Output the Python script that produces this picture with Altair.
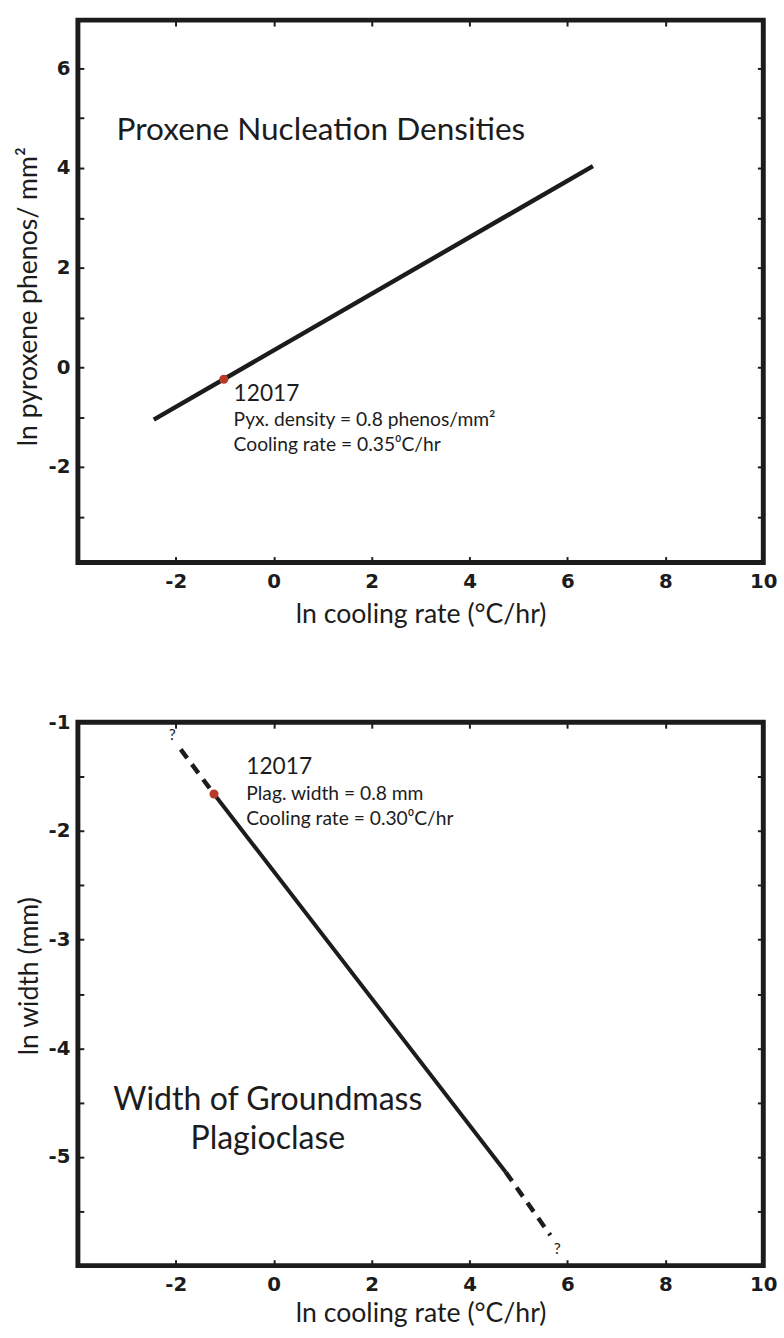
import altair as alt
import pandas as pd

FONT = "Lato"
TICKFONT = "DejaVu Sans"
INK = "#1c1c1c"
RED = "#b83a28"

# ---------------- top panel: pyroxene nucleation densities ----------------
pyx_xdomain = [-4, 10]
pyx_ydomain = [-3.92, 6.97]
pyx_xticks = [-2, 0, 2, 4, 6, 8, 10]
pyx_yticks = [-3, -2, -1, 0, 1, 2, 3, 4, 5, 6]
pyx_line_x = [-2.45, 6.52]
pyx_line_y = [-1.05, 4.04]
pyx_pt_x = [-1.02]
pyx_pt_y = [-0.24]
pyx_id_x = [-0.82]
pyx_id_y = [-0.53]
pyx_id = ["12017"]
pyx_note_x = [-0.82, -0.82]
pyx_note_y = [-1.07, -1.56]
pyx_note = ["Pyx. density = 0.8 phenos/mm²", "Cooling rate = 0.35⁰C/hr"]
pyx_title_x = [-3.21]
pyx_title_y = [4.57]
pyx_title = ["Proxene Nucleation Densities"]

# ---------------- bottom panel: groundmass plagioclase width ----------------
plag_xdomain = [-4, 10]
plag_ydomain = [-6, -1]
plag_xticks = [-2, 0, 2, 4, 6, 8, 10]
plag_yticks = [-5.5, -5, -4.5, -4, -3.5, -3, -2.5, -2, -1.5, -1]
plag_solid_x = [-1.22, 4.74]
plag_solid_y = [-1.66, -5.14]
plag_dash_x = [-1.90, -1.22, 4.74, 5.65]
plag_dash_y = [-1.25, -1.66, -5.14, -5.72]
plag_dash_seg = ["upper", "upper", "lower", "lower"]
plag_pt_x = [-1.22]
plag_pt_y = [-1.66]
plag_q_x = [-2.07, 5.79]
plag_q_y = [-1.12, -5.85]
plag_q = ["?", "?"]
plag_id_x = [-0.56]
plag_id_y = [-1.41]
plag_id = ["12017"]
plag_note_x = [-0.56, -0.56]
plag_note_y = [-1.66, -1.89]
plag_note = ["Plag. width = 0.8 mm", "Cooling rate = 0.30⁰C/hr"]
plag_title_x = [-0.12, -0.12]
plag_title_y = [-4.48, -4.84]
plag_title = ["Width of Groundmass", "Plagioclase"]

W, H = 695, 550


def df(x, y, **kw):
    d = {"x": x, "y": y}
    d.update(kw)
    return pd.DataFrame(d)


def x_main(values, title, title_y, domain):
    return alt.X("x:Q", scale=alt.Scale(domain=domain, nice=False, zero=False),
                 axis=alt.Axis(values=values, labelExpr="'' + datum.value",
                               offset=-6, tickSize=6, tickWidth=2, tickColor=INK,
                               domain=False, grid=False, labelPadding=9,
                               labelFont=TICKFONT, labelFontWeight="bold", labelFontSize=20,
                               labelColor=INK, labelOverlap=False, labelFlush=False,
                               title=title, titleFont=FONT, titleFontSize=27,
                               titleFontWeight="normal", titleColor=INK,
                               titleY=title_y, titleBaseline="middle"))


def y_main(values, expr, title, title_x, title_y, domain):
    return alt.Y("y:Q", scale=alt.Scale(domain=domain, nice=False, zero=False),
                 axis=alt.Axis(values=values, labelExpr=expr,
                               offset=-6, tickSize=6, tickWidth=2, tickColor=INK,
                               domain=False, grid=False, labelPadding=8,
                               labelFont=TICKFONT, labelFontWeight="bold", labelFontSize=20,
                               labelColor=INK, labelOverlap=False, labelFlush=False,
                               title=title, titleFont=FONT, titleFontSize=27,
                               titleFontWeight="normal", titleColor=INK,
                               titleX=title_x, titleY=title_y, titleAngle=270,
                               titleAlign="center", titleBaseline="middle"))


def x_top(values, domain):
    return alt.X("x:Q", scale=alt.Scale(domain=domain, nice=False, zero=False),
                 axis=alt.Axis(orient="top", values=values, labels=False, title=None,
                               offset=-6, tickSize=6, tickWidth=2, tickColor=INK,
                               domain=False, grid=False))


def y_right(values, domain):
    return alt.Y("y:Q", scale=alt.Scale(domain=domain, nice=False, zero=False),
                 axis=alt.Axis(orient="right", values=values, labels=False, title=None,
                               offset=-6, tickSize=6, tickWidth=2, tickColor=INK,
                               domain=False, grid=False))


def xs(domain):
    return alt.X("x:Q", scale=alt.Scale(domain=domain, nice=False, zero=False), axis=None)


def ys(domain):
    return alt.Y("y:Q", scale=alt.Scale(domain=domain, nice=False, zero=False), axis=None)


# ---------- top panel ----------
t_line = alt.Chart(df(pyx_line_x, pyx_line_y)).mark_line(
    color=INK, strokeWidth=4.5, strokeCap="butt").encode(
    x=x_main(pyx_xticks, "ln cooling rate (°C/hr)", 59, pyx_xdomain),
    y=y_main(pyx_yticks, "datum.value % 2 == 0 ? '' + datum.value : ''",
             "ln pyroxene phenos/ mm²", -56, 280, pyx_ydomain))
t_pt = alt.Chart(df(pyx_pt_x, pyx_pt_y)).mark_circle(
    color=RED, size=85, opacity=1).encode(
    x=x_top(pyx_xticks, pyx_xdomain), y=y_right(pyx_yticks, pyx_ydomain))
t_id = alt.Chart(df(pyx_id_x, pyx_id_y, t=pyx_id)).mark_text(
    font=FONT, fontSize=23, color=INK, align="left", baseline="middle").encode(
    x=xs(pyx_xdomain), y=ys(pyx_ydomain), text="t:N")
t_note = alt.Chart(df(pyx_note_x, pyx_note_y, t=pyx_note)).mark_text(
    font=FONT, fontSize=19.5, color=INK, align="left", baseline="middle").encode(
    x=xs(pyx_xdomain), y=ys(pyx_ydomain), text="t:N")
t_title = alt.Chart(df(pyx_title_x, pyx_title_y, t=pyx_title)).mark_text(
    font=FONT, fontSize=32, color=INK, align="left", baseline="alphabetic").encode(
    x=xs(pyx_xdomain), y=ys(pyx_ydomain), text="t:N")

top = alt.layer(t_line, t_pt, t_id, t_note, t_title).resolve_axis(
    x="independent", y="independent").properties(width=W, height=H)

# ---------- bottom panel ----------
b_solid = alt.Chart(df(plag_solid_x, plag_solid_y)).mark_line(
    color=INK, strokeWidth=4, strokeCap="butt").encode(
    x=x_main(plag_xticks, "ln cooling rate (°C/hr)", 55, plag_xdomain),
    y=y_main(plag_yticks, "datum.value % 1 == 0 ? '' + datum.value : ''",
             "ln width (mm)", -55, 257, plag_ydomain))
b_dash = alt.Chart(df(plag_dash_x, plag_dash_y, seg=plag_dash_seg)).mark_line(
    color=INK, strokeWidth=4.5, strokeDash=[11, 8], strokeCap="butt").encode(
    x=xs(plag_xdomain), y=ys(plag_ydomain), detail="seg:N")
b_pt = alt.Chart(df(plag_pt_x, plag_pt_y)).mark_circle(
    color=RED, size=85, opacity=1).encode(
    x=x_top(plag_xticks, plag_xdomain), y=y_right(plag_yticks, plag_ydomain))
b_q = alt.Chart(df(plag_q_x, plag_q_y, t=plag_q)).mark_text(
    font=FONT, fontSize=16, color=INK, align="center", baseline="middle").encode(
    x=xs(plag_xdomain), y=ys(plag_ydomain), text="t:N")
b_id = alt.Chart(df(plag_id_x, plag_id_y, t=plag_id)).mark_text(
    font=FONT, fontSize=23, color=INK, align="left", baseline="middle").encode(
    x=xs(plag_xdomain), y=ys(plag_ydomain), text="t:N")
b_note = alt.Chart(df(plag_note_x, plag_note_y, t=plag_note)).mark_text(
    font=FONT, fontSize=19.5, color=INK, align="left", baseline="middle").encode(
    x=xs(plag_xdomain), y=ys(plag_ydomain), text="t:N")
b_title = alt.Chart(df(plag_title_x, plag_title_y, t=plag_title)).mark_text(
    font=FONT, fontSize=32.5, color=INK, align="center", baseline="middle").encode(
    x=xs(plag_xdomain), y=ys(plag_ydomain), text="t:N")

bottom = alt.layer(b_solid, b_dash, b_pt, b_q, b_id, b_note, b_title).resolve_axis(
    x="independent", y="independent").properties(width=W, height=H + 1)

chart = alt.vconcat(top, bottom, spacing=162, bounds="flush").properties(
    padding={"left": 12, "top": 7, "right": 4, "bottom": 2},
    background="white",
).configure_view(stroke=INK, strokeWidth=5)

chart.save("out.html", embed_options={"renderer": "svg", "actions": False})
